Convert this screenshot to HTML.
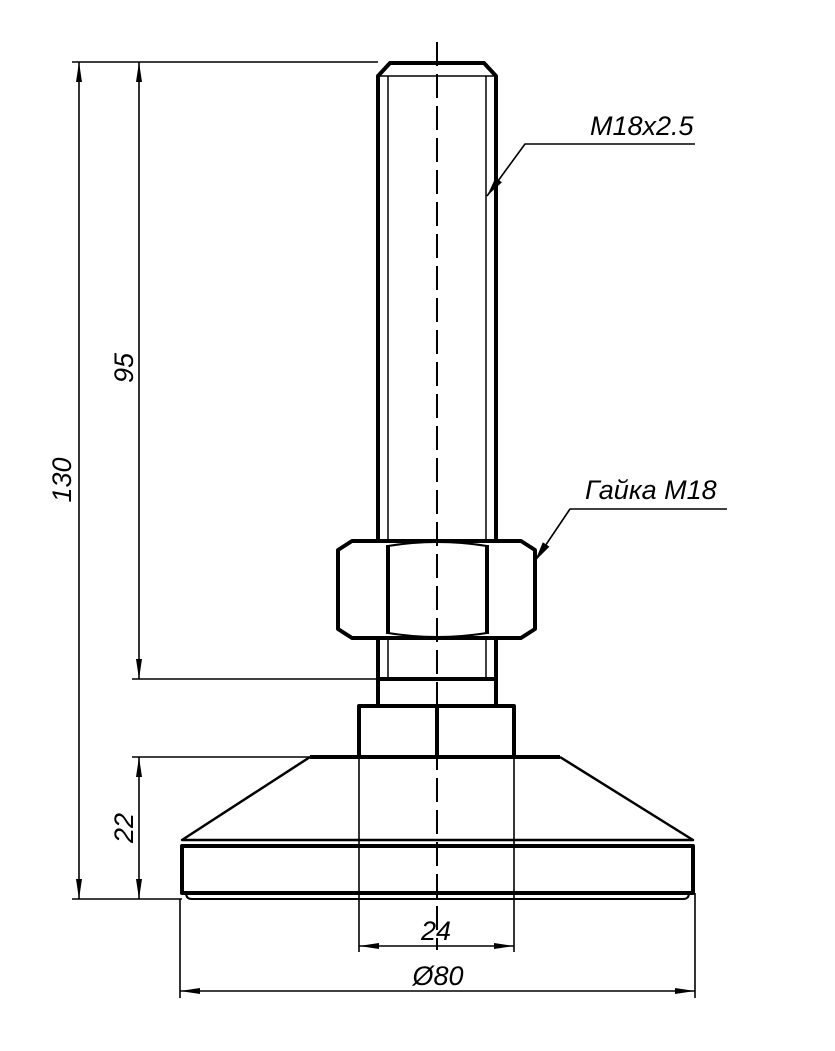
<!DOCTYPE html>
<html><head><meta charset="utf-8"><style>
html,body{margin:0;padding:0;background:#fff;}
svg{display:block;}
text{font-family:"Liberation Sans","DejaVu Sans",sans-serif;font-style:italic;fill:#000;}
</style></head><body>
<svg width="835" height="1051" viewBox="0 0 835 1051" xmlns="http://www.w3.org/2000/svg">
<defs>
<marker id="ar" viewBox="0 0 20 6" refX="20" refY="3" markerWidth="20" markerHeight="6" markerUnits="userSpaceOnUse" orient="auto-start-reverse">
<path d="M0,0 L20,3 L0,6 Z" fill="#000"/></marker>
<marker id="ar2" viewBox="0 0 20 8" refX="20" refY="4" markerWidth="20" markerHeight="8" markerUnits="userSpaceOnUse" orient="auto">
<path d="M0,0 L20,4 L0,8 Z" fill="#000"/></marker>
</defs>
<g fill="none" stroke="#000" stroke-linejoin="round">
<line x1="437" y1="42" x2="437" y2="950" stroke-width="2" stroke-dasharray="24,8"/>
<g stroke-width="4">
<path d="M378,541 L378,76 L390,63 L484,63 L496,76 L496,541"/>
<path d="M378,638 L378,704 M496,638 L496,704"/>
<line x1="378" y1="679" x2="496" y2="679"/>
</g>
<g stroke-width="1.5">
<line x1="378" y1="76" x2="496" y2="76"/>
<line x1="388" y1="76" x2="388" y2="541"/>
<line x1="486" y1="76" x2="486" y2="541"/>
<line x1="388" y1="638" x2="388" y2="679"/>
<line x1="486" y1="638" x2="486" y2="679"/>
</g>
<g stroke-width="4">
<path d="M352,541 L521,541 L535,550 L535,629 L521,638 L352,638 L338,629 L338,550 Z"/>
<line x1="388" y1="545" x2="388" y2="634"/>
<line x1="487" y1="545" x2="487" y2="634"/>
<path d="M388,546 Q437,538 487,546" stroke-width="2"/>
<path d="M388,633 Q437,641 487,633" stroke-width="2"/>
</g>
<g stroke-width="4">
<path d="M359,757 L359,706 L514,706 L514,757"/>
<line x1="437" y1="706" x2="437" y2="757"/>
</g>
<g stroke-width="4">
<line x1="310" y1="757" x2="560" y2="757"/>
<path d="M182,893 L182,846 L693,846 L693,893 Z"/>
<path d="M186,893 Q186,899 192,899 L683,899 Q689,899 689,893" stroke-width="2"/>
</g>
<g stroke-width="2.5">
<path d="M310,757 L182,840 L693,840 L560,757"/>
</g>
<g stroke-width="1.6">
<line x1="72" y1="62" x2="378" y2="62"/>
<line x1="72" y1="899" x2="182" y2="899"/>
<line x1="132" y1="679" x2="378" y2="679"/>
<line x1="132" y1="757" x2="310" y2="757"/>
<line x1="79" y1="62" x2="79" y2="899" marker-start="url(#ar)" marker-end="url(#ar)"/>
<line x1="139" y1="62" x2="139" y2="679" marker-start="url(#ar)" marker-end="url(#ar)"/>
<line x1="139" y1="757" x2="139" y2="899" marker-start="url(#ar)" marker-end="url(#ar)"/>
<line x1="359" y1="757" x2="359" y2="952"/>
<line x1="514" y1="757" x2="514" y2="952"/>
<line x1="180" y1="899" x2="180" y2="998"/>
<line x1="695" y1="893" x2="695" y2="998"/>
<line x1="359" y1="946" x2="514" y2="946" marker-start="url(#ar)" marker-end="url(#ar)"/>
<line x1="180" y1="991" x2="695" y2="991" marker-start="url(#ar)" marker-end="url(#ar)"/>
<polyline points="695,144 525,144 487,196" marker-end="url(#ar2)"/>
<polyline points="727,509 570,509 535,561" marker-end="url(#ar2)"/>
</g>
</g>
<text x="590" y="135" font-size="27">M18x2.5</text>
<text x="585" y="499" font-size="27">Гайка M18</text>
<text x="436" y="940" font-size="27" text-anchor="middle">24</text>
<text x="438" y="985" font-size="27" text-anchor="middle">Ø80</text>
<text transform="translate(71,480) rotate(-90)" font-size="27" text-anchor="middle">130</text>
<text transform="translate(133,368) rotate(-90)" font-size="27" text-anchor="middle">95</text>
<text transform="translate(133,828) rotate(-90)" font-size="27" text-anchor="middle">22</text>
</svg>
</body></html>
